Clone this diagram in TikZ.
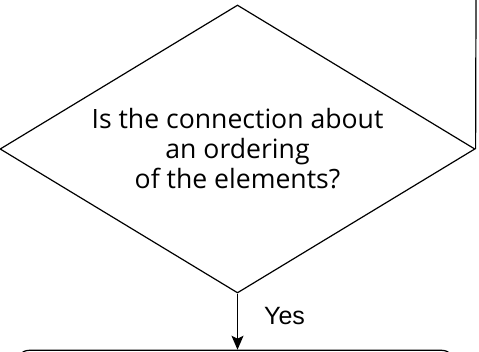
\documentclass[tikz,border=0pt]{standalone}
\usepackage{fontspec}
\setmainfont{Open Sans}
\newfontfamily\yesfont{Liberation Sans}
\usetikzlibrary{shapes.geometric,arrows.meta,positioning}

\tikzset{
  decision/.style={draw, shape=diamond, aspect=1.65, inner sep=0pt,
    minimum width=475pt, minimum height=288pt, align=center,
    font=\fontsize{26.6}{30}\selectfont},
  stepbox/.style={draw, rectangle, rounded corners=14pt, minimum width=440pt, minimum height=60pt},
  flow/.style={-{Stealth[length=14pt,width=12pt,inset=3pt]}},
}

\begin{document}
\begin{tikzpicture}[x=1pt,y=1pt,line width=1.2pt]%,>=latex]

                                \useasboundingbox (0,0) rectangle (479,351);
                                \node[decision] (ordq) at (237.5,202) {Is the connection about\\an ordering\\of the elements?};
                                \node[stepbox] (nextbox) at (235.5,-29.3) {};
                                \coordinate (loopend) at (476,352);

                                \draw (ordq.east) -- (loopend);
                                \draw[flow] (ordq.south) -- node[pos=0.4, anchor=west, inner sep=0pt, xshift=26pt, font=\yesfont\fontsize{25}{28}\selectfont] {Yes} (ordq.south |- nextbox.north);
                            \end{tikzpicture}
\end{document}
